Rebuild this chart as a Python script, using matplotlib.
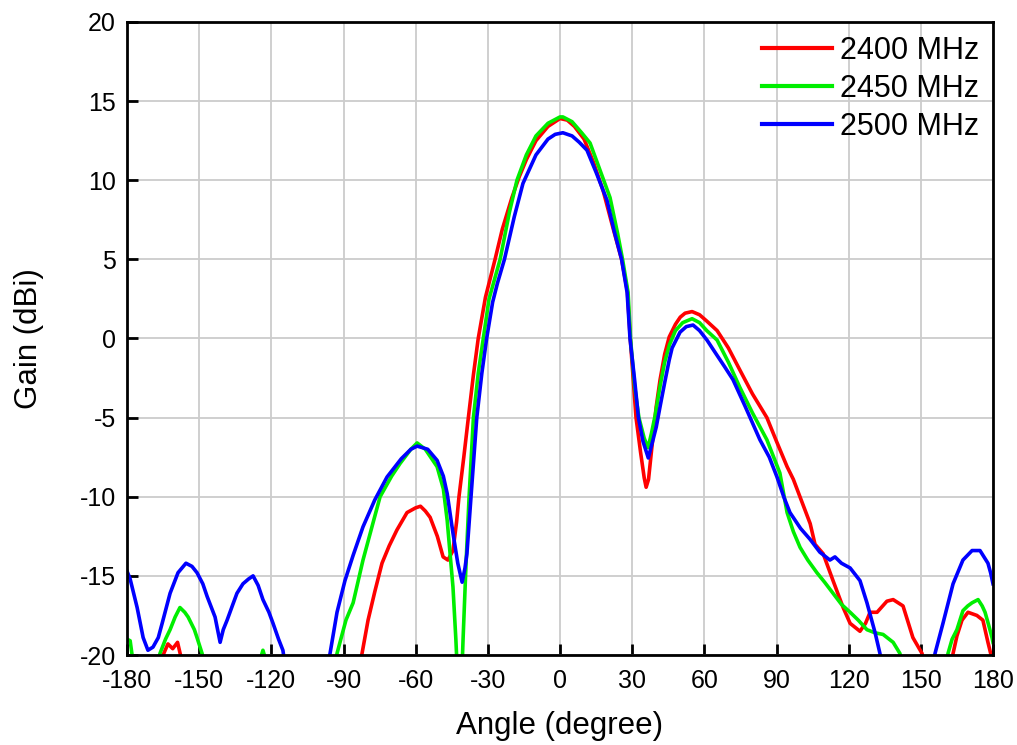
import matplotlib
matplotlib.use("Agg")
import matplotlib.pyplot as plt

plt.rcParams['font.family'] = ['Liberation Sans', 'DejaVu Sans']
plt.rcParams['axes.unicode_minus'] = False

# ---- data (angle in degree, gain in dBi); values below -20 fall outside the axis ----
red_angle = [-180, -168, -165, -163, -161, -159, -157, -154, -120, -90, -84, -82.3, -79.8, -77, -74, -71,
             -67.8, -63.6, -60, -58, -56, -54, -51, -48.6, -46.6, -44.5, -43, -42, -40, -38.1, -36, -34,
             -31, -27, -24, -20, -17, -14, -10, -5, 0, 3, 6, 10, 14, 18, 22, 25.6, 28, 29.2, 31.6, 33.5,
             35.0, 35.8, 36.8, 38.1, 40, 41.6, 43.5, 45.4, 48, 50, 52, 54.9, 58, 61, 65.3, 70, 74.8, 80,
             86, 90, 94.4, 97, 100, 104, 106, 109.4, 113.5, 117.7, 120.6, 124.7, 127, 128.9, 131.8, 135.9,
             138.5, 142.6, 146.7, 150.5, 153, 158, 161, 163.4, 165, 167.1, 169.6, 173.3, 175.8, 177.9, 180]
red_gain = [-25, -22, -20, -19.3, -19.6, -19.2, -20.5, -23, -25, -25, -21, -19.9, -17.8, -16, -14.2, -13.1,
            -12.1, -11.0, -10.7, -10.6, -10.9, -11.3, -12.5, -13.8, -14.0, -13.4, -11.6, -10, -7.5, -5, -2.3, 0,
            2.6, 5, 6.9, 8.9, 10.2, 11.3, 12.5, 13.4, 13.9, 13.8, 13.4, 12.6, 11.1, 9.3, 7.0, 5, 3.0, 0, -5, -7.2,
            -8.8, -9.4, -8.9, -7.0, -4.3, -2.6, -1.0, 0.1, 0.9, 1.35, 1.6, 1.7, 1.5, 1.1, 0.5, -0.6, -2.0, -3.5,
            -5.0, -6.5, -8.1, -8.9, -10.1, -11.7, -13.0, -13.6, -15.3, -17.0, -18.0, -18.5, -18.0, -17.3, -17.3, -16.6,
            -16.5, -16.9, -18.9, -19.9, -22, -25, -22, -19.9, -18.8, -17.8, -17.3, -17.5, -17.8, -19.2, -20.5]

green_angle = [-180, -178.7, -177, -174, -169, -166.3, -164, -162.1, -160, -158, -156, -154.6, -152, -150.9,
               -148.8, -146, -140, -126, -123.5, -121, -115, -97, -94, -92.7, -89, -86, -81.9, -78, -74.8, -70,
               -66.5, -62, -59.4, -56, -51.1, -48.5, -46.9, -44.5, -43.3, -42.4, -41, -40.3, -39, -37.8, -36,
               -34, -31.9, -29.5, -24.9, -21, -17.9, -14, -10, -5, 0, 1.2, 5, 9, 12.5, 16, 20.8, 24, 26, 28.3,
               29.3, 31, 32.8, 35, 36.6, 38, 39.5, 41.6, 43.5, 45.5, 48, 51, 54.9, 58, 61, 65.3, 70, 74.8, 80,
               86, 91.4, 94.4, 97, 99.8, 103, 106.8, 110, 113.5, 117, 120.6, 124, 127.6, 131, 134.3, 138.5,
               141.3, 144, 150, 159, 161.3, 163, 165, 167.5, 169.5, 171.3, 173.8, 175.5, 176.7, 178, 179.6, 180]
green_gain = [-19.0, -19.1, -21, -25, -22, -19.9, -19.0, -18.4, -17.6, -17.0, -17.3, -17.6, -18.4, -18.9,
              -19.9, -22, -25, -21, -19.7, -21, -25, -25, -21, -19.9, -17.8, -16.7, -14.0, -11.8, -10.0, -8.7,
              -7.9, -7.0, -6.6, -7.0, -8.1, -9.5, -11.5, -15.7, -19, -22, -22, -19, -14, -10, -5,
              -2.2, 0, 2.5, 5, 8, 10, 11.6, 12.8, 13.6, 14.0, 14.0, 13.7, 13.0, 12.35, 10.9, 8.9, 6.6, 5, 2.9,
              0, -3, -5, -6.3, -6.9, -6.0, -4.9, -3.0, -1.5, -0.4, 0.5, 1.0, 1.25, 1.0, 0.5, -0.1, -1.5, -3.1, -4.7,
              -6.4, -8.5, -11.0, -12.2, -13.2, -14.0, -14.8, -15.4, -16.1, -16.8, -17.3, -17.8, -18.4, -18.6, -18.7, -19.2,
              -19.9, -22, -25, -22, -19.9, -19.0, -18.4, -17.2, -16.9, -16.7, -16.5, -16.9, -17.3, -18.0, -18.9, -19.2]

blue_angle = [-180, -178.7, -175.8, -173.3, -171.3, -169.2, -167, -165.4, -162.1, -158.8, -155.5, -153, -150.9,
              -148.5, -146.7, -143.4, -141.3, -140, -138.4, -136, -134.3, -131.8, -129.5, -127.6, -125.5, -123.5,
              -121, -119.3, -117, -115.2, -113, -105, -98, -95.6, -92.7, -89.4, -86, -81.9, -77, -71.9, -66, -62,
              -59.4, -55, -51.1, -48.5, -46.9, -44.5, -42.5, -40.7, -39.5, -38.7, -37, -34.6, -32.5, -30.5, -28,
              -26, -23.1, -19, -15.4, -10, -5, -2, 1.2, 5, 8, 11.2, 15, 19.5, 22.5, 25.6, 27.9, 29.1, 31, 32.6,
              34.5, 36.7, 38.5, 40, 41.6, 43.5, 45.4, 46.6, 49.9, 52.5, 55.3, 58, 61.1, 65, 68.5, 71.9, 77, 83.1,
              87, 90.2, 93, 95.6, 100, 104, 108, 112.2, 114.3, 117, 120.6, 124.7, 127.6, 131, 133, 135, 142, 150,
              154, 155.9, 159.2, 163.4, 167.5, 171.3, 174.6, 177.9, 179, 180]
blue_gain = [-14.7, -15.2, -17.0, -18.9, -19.7, -19.5, -18.9, -18.0, -16.1, -14.8, -14.2, -14.4, -14.8,
             -15.5, -16.3, -17.6, -19.2, -18.4, -17.8, -16.8, -16.1, -15.5, -15.2, -15.0, -15.6, -16.5,
             -17.3, -18.0, -19.0, -19.7, -22, -25, -22, -19.9, -17.3, -15.3, -13.7, -11.9, -10.2, -8.75, -7.6, -7.0,
             -6.8, -7.0, -7.7, -8.7, -9.8, -12.3, -14.2, -15.4, -14.5, -13.6, -10, -5, -2.2, 0, 2.3,
             3.5, 5, 7.7, 9.8, 11.6, 12.6, 12.9, 13.0, 12.8, 12.4, 11.9, 10.5, 8.75, 6.8, 5, 2.9, 0, -2.6, -5,
             -6.5, -7.55, -6.5, -5.6, -4.3, -2.8, -1.36, -0.6, 0.4, 0.75, 0.85, 0.5, -0.1, -1.0, -1.8, -2.6, -4.3, -6.4,
             -7.5, -8.75, -10.0, -11.0, -12.0, -12.7, -13.5, -14.0, -13.8, -14.2, -14.5, -15.3, -16.7, -18.6, -19.9, -22, -25, -25,
             -22, -19.9, -18.0, -15.5, -14.0, -13.4, -13.4, -14.2, -14.8, -15.5]

series_labels = ['2400 MHz', '2450 MHz', '2500 MHz']
x_ticks = [-180, -150, -120, -90, -60, -30, 0, 30, 60, 90, 120, 150, 180]
y_ticks = [-20, -15, -10, -5, 0, 5, 10, 15, 20]

fig = plt.figure(figsize=(10.17, 7.45), dpi=100)
ax = fig.add_axes([0.1249, 0.1208, 0.8515, 0.8497])

ax.plot(red_angle, red_gain, color='#ff0000', lw=2.6, label=series_labels[0])
ax.plot(green_angle, green_gain, color='#00ee00', lw=2.6, label=series_labels[1])
ax.plot(blue_angle, blue_gain, color='#0000ff', lw=2.6, label=series_labels[2])

ax.set_xlim(-180, 180)
ax.set_ylim(-20, 20)
ax.set_xticks(x_ticks)
ax.set_yticks(y_ticks)
ax.grid(True, color='#cccccc', lw=1.3)
ax.set_axisbelow(True)
for s in ax.spines.values():
    s.set_linewidth(2)
    s.set_color('black')
ax.tick_params(direction='in', length=8, width=2, labelsize=18, top=False, right=False)
ax.tick_params(axis='x', pad=10)
ax.tick_params(axis='y', pad=8)

ax.set_xlabel('Angle (degree)', fontsize=22.5, labelpad=13)
ax.set_ylabel('Gain (dBi)', fontsize=22.5, labelpad=26)

leg = ax.legend(loc='upper right', bbox_to_anchor=(1.0, 1.0), frameon=False, fontsize=22,
                handlelength=2.3, handletextpad=0.25, labelspacing=0.26, borderaxespad=0.05)
for h in leg.get_lines():
    h.set_linewidth(3)

fig.savefig('out.png', dpi=100)
